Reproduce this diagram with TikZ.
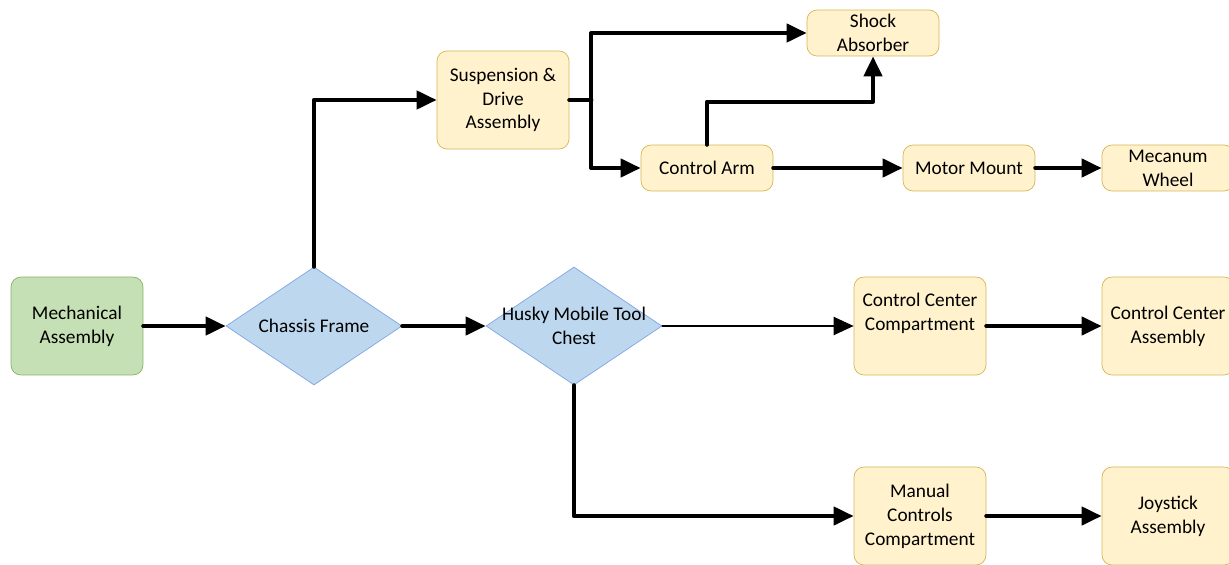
\documentclass[tikz,border=0pt]{standalone}
\usepackage{fontspec}
\setmainfont{Carlito}
\usepackage{xcolor}
\usetikzlibrary{shapes.geometric,arrows.meta,calc,positioning}

\definecolor{boxfill}{HTML}{FFF2CC}
\definecolor{boxline}{HTML}{D6B656}
\definecolor{mechfill}{HTML}{C5E0B4}
\definecolor{mechline}{HTML}{82B366}
\definecolor{chestfill}{HTML}{BDD7EE}
\definecolor{chestline}{HTML}{7EA6E0}

\tikzset{
  part/.style={draw=boxline, fill=boxfill, rounded corners=0.2cm, align=center,
    minimum width=2.64cm, minimum height=1.96cm, inner sep=0pt},
  slim/.style={part, minimum height=0.92cm},
  mech/.style={part, draw=mechline, fill=mechfill},
  chest/.style={diamond, draw=chestline, fill=chestfill, inner sep=0pt,
    minimum width=3.52cm, minimum height=2.36cm},
  flow/.style={line width=2.4pt, line cap=round, line join=round,
    -{Triangle[length=0.4cm,width=0.36cm]}},
  thinflow/.style={flow, line width=1.2pt}
}

\begin{document}
\begin{tikzpicture}[x=0.02cm, y=-0.02cm, font=\fontsize{11}{13.6}\selectfont]

    \useasboundingbox (0,0) rectangle (1229,564);

% the blocks

    \node[mech] (mech) at (77,326) {Mechanical\\Assembly};
    \node[chest, label={[align=center]center:Chassis Frame}] (chassis) at (314,326) {};
    \node[chest, label={[align=center]center:Husky Mobile Tool\\Chest}] (husky) at (574,326) {};

    \node[part] (susp) at (503,100) {Suspension \&\\Drive\\Assembly};
    \node[slim] (shock) at (873,33) {Shock\\Absorber};
    \node[slim] (arm) at (707,168) {Control Arm};
    \node[slim] (motor) at (969,168) {Motor Mount};
    \node[slim] (wheel) at (1168,168) {Mecanum\\Wheel};

    \node[part, text depth=16pt] (ccc) at (920,326) {Control Center\\Compartment};
    \node[part] (cca) at (1168,326) {Control Center\\Assembly};
    \node[part] (mcc) at (920,516) {Manual\\Controls\\Compartment};
    \node[part] (joy) at (1168,516) {Joystick\\Assembly};

% the links

    \draw[flow] (mech) -- (chassis);
    \draw[flow] (chassis) -- (husky);
    \draw[flow] (chassis.north) |- (susp.west);

    \coordinate (split) at ($(susp.east)+(22,0)$);
    \draw[line width=2.4pt, line cap=round] (susp.east) -- (split);
    \draw[flow] (split) |- (shock.west);
    \draw[flow] (split) |- (arm.west);

    \draw[flow] (arm.north) -- ++(0,-43) -| (shock.south);
    \draw[flow] (arm) -- (motor);
    \draw[flow] (motor) -- (wheel);

    \draw[thinflow] (husky) -- (ccc);
    \draw[flow] (husky.south) |- (mcc.west);
    \draw[flow] (ccc) -- (cca);
    \draw[flow] (mcc) -- (joy);

\end{tikzpicture}
\end{document}
